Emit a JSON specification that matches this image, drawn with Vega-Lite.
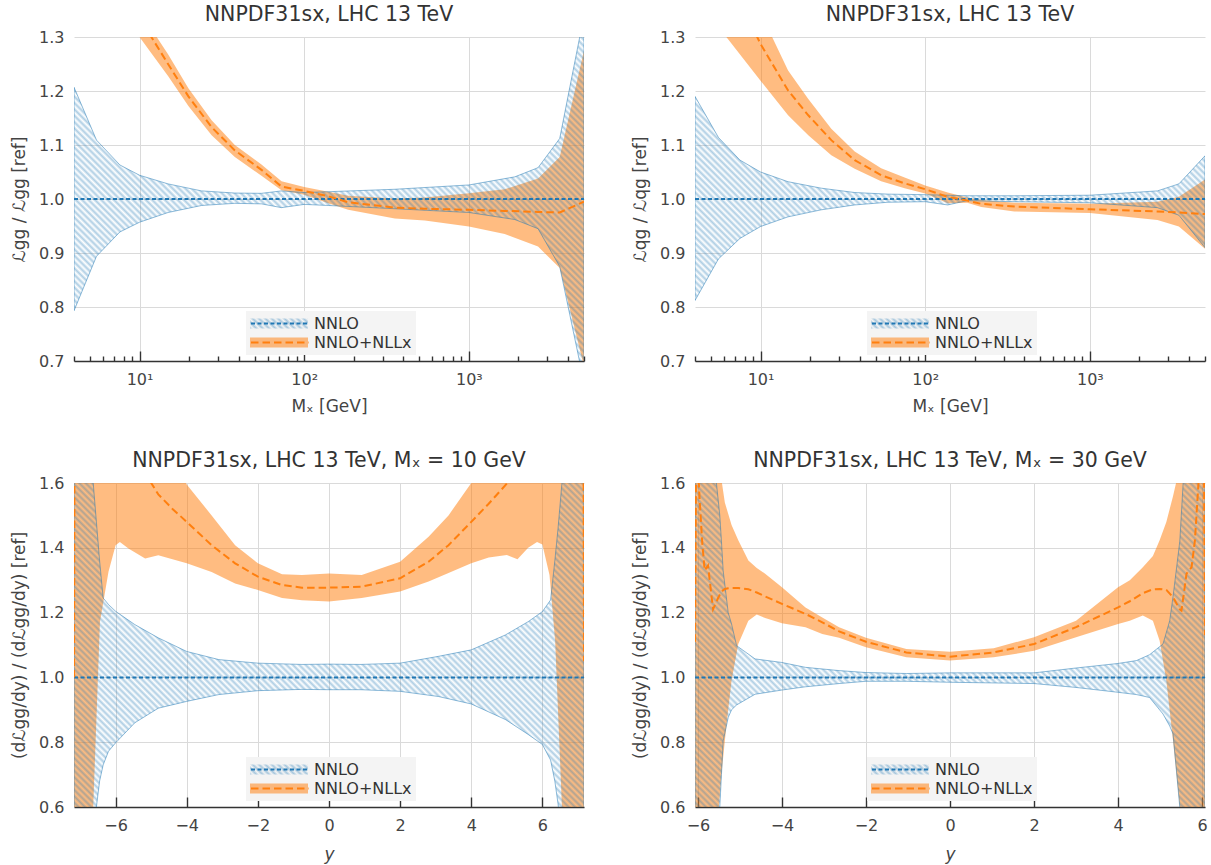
{
"$schema": "https://vega.github.io/schema/vega-lite/v6.json",
"padding": {"left": 10, "top": 4, "right": 4, "bottom": 2},
"background": "white",
"columns": 2,
"spacing": {"row": 36, "column": 46},
"params": [{"name": "hs", "value": [
{"offset":0,"color":"#1f77b45c"},{"offset":0.0025,"color":"#1f77b400"},{"offset":0.005,"color":"#1f77b45c"},{"offset":0.0075,"color":"#1f77b400"},
{"offset":0.01,"color":"#1f77b45c"},{"offset":0.0125,"color":"#1f77b400"},{"offset":0.015,"color":"#1f77b45c"},{"offset":0.0175,"color":"#1f77b400"},
{"offset":0.02,"color":"#1f77b45c"},{"offset":0.0225,"color":"#1f77b400"},{"offset":0.025,"color":"#1f77b45c"},{"offset":0.0275,"color":"#1f77b400"},
{"offset":0.03,"color":"#1f77b45c"},{"offset":0.0325,"color":"#1f77b400"},{"offset":0.035,"color":"#1f77b45c"},{"offset":0.0375,"color":"#1f77b400"},
{"offset":0.04,"color":"#1f77b45c"},{"offset":0.0425,"color":"#1f77b400"},{"offset":0.045,"color":"#1f77b45c"},{"offset":0.0475,"color":"#1f77b400"},
{"offset":0.05,"color":"#1f77b45c"},{"offset":0.0525,"color":"#1f77b400"},{"offset":0.055,"color":"#1f77b45c"},{"offset":0.0575,"color":"#1f77b400"},
{"offset":0.06,"color":"#1f77b45c"},{"offset":0.0625,"color":"#1f77b400"},{"offset":0.065,"color":"#1f77b45c"},{"offset":0.0675,"color":"#1f77b400"},
{"offset":0.07,"color":"#1f77b45c"},{"offset":0.0725,"color":"#1f77b400"},{"offset":0.075,"color":"#1f77b45c"},{"offset":0.0775,"color":"#1f77b400"},
{"offset":0.08,"color":"#1f77b45c"},{"offset":0.0825,"color":"#1f77b400"},{"offset":0.085,"color":"#1f77b45c"},{"offset":0.0875,"color":"#1f77b400"},
{"offset":0.09,"color":"#1f77b45c"},{"offset":0.0925,"color":"#1f77b400"},{"offset":0.095,"color":"#1f77b45c"},{"offset":0.0975,"color":"#1f77b400"},
{"offset":0.1,"color":"#1f77b45c"},{"offset":0.1025,"color":"#1f77b400"},{"offset":0.105,"color":"#1f77b45c"},{"offset":0.1075,"color":"#1f77b400"},
{"offset":0.11,"color":"#1f77b45c"},{"offset":0.1125,"color":"#1f77b400"},{"offset":0.115,"color":"#1f77b45c"},{"offset":0.1175,"color":"#1f77b400"},
{"offset":0.12,"color":"#1f77b45c"},{"offset":0.1225,"color":"#1f77b400"},{"offset":0.125,"color":"#1f77b45c"},{"offset":0.1275,"color":"#1f77b400"},
{"offset":0.13,"color":"#1f77b45c"},{"offset":0.1325,"color":"#1f77b400"},{"offset":0.135,"color":"#1f77b45c"},{"offset":0.1375,"color":"#1f77b400"},
{"offset":0.14,"color":"#1f77b45c"},{"offset":0.1425,"color":"#1f77b400"},{"offset":0.145,"color":"#1f77b45c"},{"offset":0.1475,"color":"#1f77b400"},
{"offset":0.15,"color":"#1f77b45c"},{"offset":0.1525,"color":"#1f77b400"},{"offset":0.155,"color":"#1f77b45c"},{"offset":0.1575,"color":"#1f77b400"},
{"offset":0.16,"color":"#1f77b45c"},{"offset":0.1625,"color":"#1f77b400"},{"offset":0.165,"color":"#1f77b45c"},{"offset":0.1675,"color":"#1f77b400"},
{"offset":0.17,"color":"#1f77b45c"},{"offset":0.1725,"color":"#1f77b400"},{"offset":0.175,"color":"#1f77b45c"},{"offset":0.1775,"color":"#1f77b400"},
{"offset":0.18,"color":"#1f77b45c"},{"offset":0.1825,"color":"#1f77b400"},{"offset":0.185,"color":"#1f77b45c"},{"offset":0.1875,"color":"#1f77b400"},
{"offset":0.19,"color":"#1f77b45c"},{"offset":0.1925,"color":"#1f77b400"},{"offset":0.195,"color":"#1f77b45c"},{"offset":0.1975,"color":"#1f77b400"},
{"offset":0.2,"color":"#1f77b45c"},{"offset":0.2025,"color":"#1f77b400"},{"offset":0.205,"color":"#1f77b45c"},{"offset":0.2075,"color":"#1f77b400"},
{"offset":0.21,"color":"#1f77b45c"},{"offset":0.2125,"color":"#1f77b400"},{"offset":0.215,"color":"#1f77b45c"},{"offset":0.2175,"color":"#1f77b400"},
{"offset":0.22,"color":"#1f77b45c"},{"offset":0.2225,"color":"#1f77b400"},{"offset":0.225,"color":"#1f77b45c"},{"offset":0.2275,"color":"#1f77b400"},
{"offset":0.23,"color":"#1f77b45c"},{"offset":0.2325,"color":"#1f77b400"},{"offset":0.235,"color":"#1f77b45c"},{"offset":0.2375,"color":"#1f77b400"},
{"offset":0.24,"color":"#1f77b45c"},{"offset":0.2425,"color":"#1f77b400"},{"offset":0.245,"color":"#1f77b45c"},{"offset":0.2475,"color":"#1f77b400"},
{"offset":0.25,"color":"#1f77b45c"},{"offset":0.2525,"color":"#1f77b400"},{"offset":0.255,"color":"#1f77b45c"},{"offset":0.2575,"color":"#1f77b400"},
{"offset":0.26,"color":"#1f77b45c"},{"offset":0.2625,"color":"#1f77b400"},{"offset":0.265,"color":"#1f77b45c"},{"offset":0.2675,"color":"#1f77b400"},
{"offset":0.27,"color":"#1f77b45c"},{"offset":0.2725,"color":"#1f77b400"},{"offset":0.275,"color":"#1f77b45c"},{"offset":0.2775,"color":"#1f77b400"},
{"offset":0.28,"color":"#1f77b45c"},{"offset":0.2825,"color":"#1f77b400"},{"offset":0.285,"color":"#1f77b45c"},{"offset":0.2875,"color":"#1f77b400"},
{"offset":0.29,"color":"#1f77b45c"},{"offset":0.2925,"color":"#1f77b400"},{"offset":0.295,"color":"#1f77b45c"},{"offset":0.2975,"color":"#1f77b400"},
{"offset":0.3,"color":"#1f77b45c"},{"offset":0.3025,"color":"#1f77b400"},{"offset":0.305,"color":"#1f77b45c"},{"offset":0.3075,"color":"#1f77b400"},
{"offset":0.31,"color":"#1f77b45c"},{"offset":0.3125,"color":"#1f77b400"},{"offset":0.315,"color":"#1f77b45c"},{"offset":0.3175,"color":"#1f77b400"},
{"offset":0.32,"color":"#1f77b45c"},{"offset":0.3225,"color":"#1f77b400"},{"offset":0.325,"color":"#1f77b45c"},{"offset":0.3275,"color":"#1f77b400"},
{"offset":0.33,"color":"#1f77b45c"},{"offset":0.3325,"color":"#1f77b400"},{"offset":0.335,"color":"#1f77b45c"},{"offset":0.3375,"color":"#1f77b400"},
{"offset":0.34,"color":"#1f77b45c"},{"offset":0.3425,"color":"#1f77b400"},{"offset":0.345,"color":"#1f77b45c"},{"offset":0.3475,"color":"#1f77b400"},
{"offset":0.35,"color":"#1f77b45c"},{"offset":0.3525,"color":"#1f77b400"},{"offset":0.355,"color":"#1f77b45c"},{"offset":0.3575,"color":"#1f77b400"},
{"offset":0.36,"color":"#1f77b45c"},{"offset":0.3625,"color":"#1f77b400"},{"offset":0.365,"color":"#1f77b45c"},{"offset":0.3675,"color":"#1f77b400"},
{"offset":0.37,"color":"#1f77b45c"},{"offset":0.3725,"color":"#1f77b400"},{"offset":0.375,"color":"#1f77b45c"},{"offset":0.3775,"color":"#1f77b400"},
{"offset":0.38,"color":"#1f77b45c"},{"offset":0.3825,"color":"#1f77b400"},{"offset":0.385,"color":"#1f77b45c"},{"offset":0.3875,"color":"#1f77b400"},
{"offset":0.39,"color":"#1f77b45c"},{"offset":0.3925,"color":"#1f77b400"},{"offset":0.395,"color":"#1f77b45c"},{"offset":0.3975,"color":"#1f77b400"},
{"offset":0.4,"color":"#1f77b45c"},{"offset":0.4025,"color":"#1f77b400"},{"offset":0.405,"color":"#1f77b45c"},{"offset":0.4075,"color":"#1f77b400"},
{"offset":0.41,"color":"#1f77b45c"},{"offset":0.4125,"color":"#1f77b400"},{"offset":0.415,"color":"#1f77b45c"},{"offset":0.4175,"color":"#1f77b400"},
{"offset":0.42,"color":"#1f77b45c"},{"offset":0.4225,"color":"#1f77b400"},{"offset":0.425,"color":"#1f77b45c"},{"offset":0.4275,"color":"#1f77b400"},
{"offset":0.43,"color":"#1f77b45c"},{"offset":0.4325,"color":"#1f77b400"},{"offset":0.435,"color":"#1f77b45c"},{"offset":0.4375,"color":"#1f77b400"},
{"offset":0.44,"color":"#1f77b45c"},{"offset":0.4425,"color":"#1f77b400"},{"offset":0.445,"color":"#1f77b45c"},{"offset":0.4475,"color":"#1f77b400"},
{"offset":0.45,"color":"#1f77b45c"},{"offset":0.4525,"color":"#1f77b400"},{"offset":0.455,"color":"#1f77b45c"},{"offset":0.4575,"color":"#1f77b400"},
{"offset":0.46,"color":"#1f77b45c"},{"offset":0.4625,"color":"#1f77b400"},{"offset":0.465,"color":"#1f77b45c"},{"offset":0.4675,"color":"#1f77b400"},
{"offset":0.47,"color":"#1f77b45c"},{"offset":0.4725,"color":"#1f77b400"},{"offset":0.475,"color":"#1f77b45c"},{"offset":0.4775,"color":"#1f77b400"},
{"offset":0.48,"color":"#1f77b45c"},{"offset":0.4825,"color":"#1f77b400"},{"offset":0.485,"color":"#1f77b45c"},{"offset":0.4875,"color":"#1f77b400"},
{"offset":0.49,"color":"#1f77b45c"},{"offset":0.4925,"color":"#1f77b400"},{"offset":0.495,"color":"#1f77b45c"},{"offset":0.4975,"color":"#1f77b400"},
{"offset":0.5,"color":"#1f77b45c"},{"offset":0.5025,"color":"#1f77b400"},{"offset":0.505,"color":"#1f77b45c"},{"offset":0.5075,"color":"#1f77b400"},
{"offset":0.51,"color":"#1f77b45c"},{"offset":0.5125,"color":"#1f77b400"},{"offset":0.515,"color":"#1f77b45c"},{"offset":0.5175,"color":"#1f77b400"},
{"offset":0.52,"color":"#1f77b45c"},{"offset":0.5225,"color":"#1f77b400"},{"offset":0.525,"color":"#1f77b45c"},{"offset":0.5275,"color":"#1f77b400"},
{"offset":0.53,"color":"#1f77b45c"},{"offset":0.5325,"color":"#1f77b400"},{"offset":0.535,"color":"#1f77b45c"},{"offset":0.5375,"color":"#1f77b400"},
{"offset":0.54,"color":"#1f77b45c"},{"offset":0.5425,"color":"#1f77b400"},{"offset":0.545,"color":"#1f77b45c"},{"offset":0.5475,"color":"#1f77b400"},
{"offset":0.55,"color":"#1f77b45c"},{"offset":0.5525,"color":"#1f77b400"},{"offset":0.555,"color":"#1f77b45c"},{"offset":0.5575,"color":"#1f77b400"},
{"offset":0.56,"color":"#1f77b45c"},{"offset":0.5625,"color":"#1f77b400"},{"offset":0.565,"color":"#1f77b45c"},{"offset":0.5675,"color":"#1f77b400"},
{"offset":0.57,"color":"#1f77b45c"},{"offset":0.5725,"color":"#1f77b400"},{"offset":0.575,"color":"#1f77b45c"},{"offset":0.5775,"color":"#1f77b400"},
{"offset":0.58,"color":"#1f77b45c"},{"offset":0.5825,"color":"#1f77b400"},{"offset":0.585,"color":"#1f77b45c"},{"offset":0.5875,"color":"#1f77b400"},
{"offset":0.59,"color":"#1f77b45c"},{"offset":0.5925,"color":"#1f77b400"},{"offset":0.595,"color":"#1f77b45c"},{"offset":0.5975,"color":"#1f77b400"},
{"offset":0.6,"color":"#1f77b45c"},{"offset":0.6025,"color":"#1f77b400"},{"offset":0.605,"color":"#1f77b45c"},{"offset":0.6075,"color":"#1f77b400"},
{"offset":0.61,"color":"#1f77b45c"},{"offset":0.6125,"color":"#1f77b400"},{"offset":0.615,"color":"#1f77b45c"},{"offset":0.6175,"color":"#1f77b400"},
{"offset":0.62,"color":"#1f77b45c"},{"offset":0.6225,"color":"#1f77b400"},{"offset":0.625,"color":"#1f77b45c"},{"offset":0.6275,"color":"#1f77b400"},
{"offset":0.63,"color":"#1f77b45c"},{"offset":0.6325,"color":"#1f77b400"},{"offset":0.635,"color":"#1f77b45c"},{"offset":0.6375,"color":"#1f77b400"},
{"offset":0.64,"color":"#1f77b45c"},{"offset":0.6425,"color":"#1f77b400"},{"offset":0.645,"color":"#1f77b45c"},{"offset":0.6475,"color":"#1f77b400"},
{"offset":0.65,"color":"#1f77b45c"},{"offset":0.6525,"color":"#1f77b400"},{"offset":0.655,"color":"#1f77b45c"},{"offset":0.6575,"color":"#1f77b400"},
{"offset":0.66,"color":"#1f77b45c"},{"offset":0.6625,"color":"#1f77b400"},{"offset":0.665,"color":"#1f77b45c"},{"offset":0.6675,"color":"#1f77b400"},
{"offset":0.67,"color":"#1f77b45c"},{"offset":0.6725,"color":"#1f77b400"},{"offset":0.675,"color":"#1f77b45c"},{"offset":0.6775,"color":"#1f77b400"},
{"offset":0.68,"color":"#1f77b45c"},{"offset":0.6825,"color":"#1f77b400"},{"offset":0.685,"color":"#1f77b45c"},{"offset":0.6875,"color":"#1f77b400"},
{"offset":0.69,"color":"#1f77b45c"},{"offset":0.6925,"color":"#1f77b400"},{"offset":0.695,"color":"#1f77b45c"},{"offset":0.6975,"color":"#1f77b400"},
{"offset":0.7,"color":"#1f77b45c"},{"offset":0.7025,"color":"#1f77b400"},{"offset":0.705,"color":"#1f77b45c"},{"offset":0.7075,"color":"#1f77b400"},
{"offset":0.71,"color":"#1f77b45c"},{"offset":0.7125,"color":"#1f77b400"},{"offset":0.715,"color":"#1f77b45c"},{"offset":0.7175,"color":"#1f77b400"},
{"offset":0.72,"color":"#1f77b45c"},{"offset":0.7225,"color":"#1f77b400"},{"offset":0.725,"color":"#1f77b45c"},{"offset":0.7275,"color":"#1f77b400"},
{"offset":0.73,"color":"#1f77b45c"},{"offset":0.7325,"color":"#1f77b400"},{"offset":0.735,"color":"#1f77b45c"},{"offset":0.7375,"color":"#1f77b400"},
{"offset":0.74,"color":"#1f77b45c"},{"offset":0.7425,"color":"#1f77b400"},{"offset":0.745,"color":"#1f77b45c"},{"offset":0.7475,"color":"#1f77b400"},
{"offset":0.75,"color":"#1f77b45c"},{"offset":0.7525,"color":"#1f77b400"}
]}],
"resolve": {"scale": {"fill": "independent", "stroke": "independent", "strokeDash": "independent", "x": "independent", "y": "independent"}, "legend": {"fill": "independent", "stroke": "independent", "strokeDash": "independent"}},
"datasets": {
"tl_a": [{"x":4,"lo":0.793,"hi":1.207},{"x":5.48,"lo":0.894,"hi":1.109},{"x":7.6,"lo":0.939,"hi":1.063},{"x":10,"lo":0.957,"hi":1.044},{"x":14.9,"lo":0.975,"hi":1.028},{"x":23.8,"lo":0.988,"hi":1.015},{"x":37.9,"lo":0.992,"hi":1.011},{"x":55,"lo":0.991,"hi":1.0105},{"x":72.8,"lo":0.984,"hi":1.015},{"x":100,"lo":0.99,"hi":1.012},{"x":140,"lo":0.988,"hi":1.0135},{"x":355,"lo":0.982,"hi":1.018},{"x":1000,"lo":0.975,"hi":1.026},{"x":1900,"lo":0.962,"hi":1.041},{"x":2630,"lo":0.945,"hi":1.058},{"x":3560,"lo":0.875,"hi":1.112},{"x":5000,"lo":0.66,"hi":1.34}],
"tl_b": [{"x":10,"lo":1.3,"c":1.345,"hi":1.37},{"x":11.8,"lo":1.27,"c":1.3,"hi":1.315},{"x":14.9,"lo":1.228,"c":1.25,"hi":1.268},{"x":19.8,"lo":1.172,"c":1.19,"hi":1.205},{"x":27.4,"lo":1.118,"c":1.133,"hi":1.146},{"x":37.9,"lo":1.078,"c":1.09,"hi":1.1},{"x":55,"lo":1.043,"c":1.054,"hi":1.064},{"x":72.8,"lo":1.016,"c":1.023,"hi":1.033},{"x":100,"lo":1.008,"c":1.015,"hi":1.022},{"x":140,"lo":0.992,"c":1.005,"hi":1.0135},{"x":185,"lo":0.98,"c":0.994,"hi":1.006},{"x":355,"lo":0.964,"c":0.984,"hi":1.001},{"x":540,"lo":0.96,"c":0.982,"hi":1.003},{"x":1000,"lo":0.949,"c":0.98,"hi":1.0105},{"x":1650,"lo":0.935,"c":0.978,"hi":1.018},{"x":2630,"lo":0.912,"c":0.976,"hi":1.038},{"x":3560,"lo":0.872,"c":0.975,"hi":1.078},{"x":5000,"lo":0.69,"c":0.995,"hi":1.275}],
"tr_a": [{"x":4,"lo":0.812,"hi":1.19},{"x":5.55,"lo":0.889,"hi":1.114},{"x":7.5,"lo":0.927,"hi":1.072},{"x":10,"lo":0.949,"hi":1.05},{"x":14.7,"lo":0.967,"hi":1.032},{"x":23.4,"lo":0.98,"hi":1.02},{"x":37.3,"lo":0.989,"hi":1.012},{"x":59.4,"lo":0.994,"hi":1.009},{"x":100,"lo":0.995,"hi":1.008},{"x":137,"lo":0.989,"hi":1.007},{"x":180,"lo":0.997,"hi":1.006},{"x":348,"lo":0.995,"hi":1.006},{"x":1000,"lo":0.993,"hi":1.007},{"x":2570,"lo":0.984,"hi":1.015},{"x":3470,"lo":0.97,"hi":1.028},{"x":5000,"lo":0.91,"hi":1.08}],
"tr_b": [{"x":6.2,"lo":1.3,"c":1.42,"hi":1.52},{"x":10,"lo":1.219,"c":1.287,"hi":1.345},{"x":14.7,"lo":1.155,"c":1.201,"hi":1.238},{"x":19.5,"lo":1.118,"c":1.155,"hi":1.185},{"x":26.9,"lo":1.081,"c":1.109,"hi":1.13},{"x":37.3,"lo":1.056,"c":1.072,"hi":1.088},{"x":54,"lo":1.033,"c":1.044,"hi":1.057},{"x":75,"lo":1.02,"c":1.029,"hi":1.04},{"x":100,"lo":1.01,"c":1.018,"hi":1.025},{"x":137,"lo":0.992,"c":1.004,"hi":1.012},{"x":180,"lo":0.993,"c":0.997,"hi":1.003},{"x":219,"lo":0.985,"c":0.991,"hi":0.998},{"x":348,"lo":0.977,"c":0.986,"hi":0.993},{"x":1000,"lo":0.974,"c":0.981,"hi":0.991},{"x":2570,"lo":0.961,"c":0.977,"hi":0.995},{"x":3470,"lo":0.949,"c":0.975,"hi":1.004},{"x":5000,"lo":0.908,"c":0.972,"hi":1.036}],
"bl_a": [{"x":-7.17,"lo":0.3,"hi":1.9},{"x":-6.63,"lo":0.5,"hi":1.6},{"x":-6.54,"lo":0.6,"hi":1.48},{"x":-6.45,"lo":0.68,"hi":1.36},{"x":-6.35,"lo":0.73,"hi":1.245},{"x":-6.2,"lo":0.772,"hi":1.225},{"x":-6,"lo":0.798,"hi":1.204},{"x":-5.46,"lo":0.86,"hi":1.163},{"x":-4.8,"lo":0.905,"hi":1.122},{"x":-4,"lo":0.926,"hi":1.08},{"x":-3.1,"lo":0.947,"hi":1.055},{"x":-2,"lo":0.959,"hi":1.044},{"x":-0.76,"lo":0.963,"hi":1.04},{"x":0,"lo":0.962,"hi":1.041},{"x":0.9,"lo":0.962,"hi":1.04},{"x":2,"lo":0.957,"hi":1.044},{"x":3.08,"lo":0.941,"hi":1.065},{"x":4,"lo":0.918,"hi":1.085},{"x":4.96,"lo":0.87,"hi":1.131},{"x":5.6,"lo":0.824,"hi":1.172},{"x":6,"lo":0.793,"hi":1.203},{"x":6.23,"lo":0.745,"hi":1.239},{"x":6.35,"lo":0.68,"hi":1.36},{"x":6.44,"lo":0.61,"hi":1.46},{"x":6.55,"lo":0.5,"hi":1.6},{"x":7.17,"lo":0.3,"hi":1.9}],
"bl_b": [{"x":-7.17,"lo":0,"c":1,"hi":2.6},{"x":-7.14,"lo":0,"c":2.6,"hi":3},{"x":-6.63,"lo":0.598,"c":2.45,"hi":2.9},{"x":-6.44,"lo":1.172,"c":2.35,"hi":2.8},{"x":-6.2,"lo":1.326,"c":2.2,"hi":2.7},{"x":-6,"lo":1.408,"c":2.1,"hi":2.6},{"x":-5.88,"lo":1.418,"c":2,"hi":2.5},{"x":-5.64,"lo":1.398,"c":1.86,"hi":2.35},{"x":-5.17,"lo":1.367,"c":1.63,"hi":2},{"x":-4.8,"lo":1.377,"c":1.565,"hi":1.8},{"x":-4.4,"lo":1.365,"c":1.52,"hi":1.68},{"x":-4,"lo":1.352,"c":1.48,"hi":1.595},{"x":-3.3,"lo":1.325,"c":1.408,"hi":1.5},{"x":-2.64,"lo":1.29,"c":1.352,"hi":1.408},{"x":-2,"lo":1.27,"c":1.311,"hi":1.352},{"x":-1.32,"lo":1.245,"c":1.285,"hi":1.318},{"x":-0.76,"lo":1.238,"c":1.277,"hi":1.316},{"x":0,"lo":1.234,"c":1.277,"hi":1.321},{"x":0.92,"lo":1.245,"c":1.28,"hi":1.316},{"x":2,"lo":1.265,"c":1.306,"hi":1.357},{"x":2.8,"lo":1.296,"c":1.357,"hi":1.434},{"x":3.36,"lo":1.322,"c":1.408,"hi":1.5},{"x":4,"lo":1.352,"c":1.48,"hi":1.6},{"x":4.49,"lo":1.37,"c":1.536,"hi":1.7},{"x":5,"lo":1.378,"c":1.598,"hi":1.85},{"x":5.3,"lo":1.365,"c":1.65,"hi":1.95},{"x":5.6,"lo":1.4,"c":1.75,"hi":2.1},{"x":5.85,"lo":1.418,"c":1.85,"hi":2.2},{"x":6,"lo":1.41,"c":1.95,"hi":2.3},{"x":6.2,"lo":1.316,"c":2.1,"hi":2.45},{"x":6.36,"lo":1.11,"c":2.2,"hi":2.55},{"x":6.55,"lo":0.598,"c":2.35,"hi":2.7},{"x":7.14,"lo":0,"c":2.6,"hi":3},{"x":7.17,"lo":0,"c":1.05,"hi":2.6}],
"br_a": [{"x":-6.07,"lo":0.3,"hi":1.9},{"x":-5.56,"lo":0.5,"hi":1.6},{"x":-5.48,"lo":0.6,"hi":1.5},{"x":-5.44,"lo":0.7,"hi":1.42},{"x":-5.4,"lo":0.804,"hi":1.33},{"x":-5.28,"lo":0.876,"hi":1.2},{"x":-5.2,"lo":0.9,"hi":1.165},{"x":-5.08,"lo":0.915,"hi":1.098},{"x":-4.64,"lo":0.948,"hi":1.057},{"x":-4,"lo":0.961,"hi":1.046},{"x":-3.44,"lo":0.971,"hi":1.031},{"x":-2.64,"lo":0.981,"hi":1.021},{"x":-2,"lo":0.988,"hi":1.015},{"x":-1.04,"lo":0.988,"hi":1.012},{"x":0,"lo":0.985,"hi":1.014},{"x":2,"lo":0.981,"hi":1.014},{"x":3,"lo":0.969,"hi":1.029},{"x":4,"lo":0.954,"hi":1.043},{"x":4.44,"lo":0.947,"hi":1.052},{"x":4.75,"lo":0.938,"hi":1.07},{"x":5.07,"lo":0.887,"hi":1.103},{"x":5.23,"lo":0.85,"hi":1.175},{"x":5.31,"lo":0.825,"hi":1.25},{"x":5.47,"lo":0.6,"hi":1.42},{"x":5.55,"lo":0.5,"hi":1.6},{"x":6.07,"lo":0.3,"hi":1.9}],
"br_b": [{"x":-6.07,"lo":0,"c":1.11,"hi":2.6},{"x":-6.04,"lo":0,"c":1.75,"hi":2.6},{"x":-5.96,"lo":0,"c":1.55,"hi":2.5},{"x":-5.9,"lo":0.1,"c":1.42,"hi":2.4},{"x":-5.84,"lo":0.2,"c":1.33,"hi":2.3},{"x":-5.76,"lo":0.3,"c":1.345,"hi":2.1},{"x":-5.64,"lo":0.45,"c":1.21,"hi":1.9},{"x":-5.52,"lo":0.57,"c":1.245,"hi":1.7},{"x":-5.44,"lo":0.7,"c":1.265,"hi":1.61},{"x":-5.36,"lo":0.804,"c":1.273,"hi":1.54},{"x":-5.28,"lo":0.9,"c":1.275,"hi":1.505},{"x":-5.2,"lo":0.99,"c":1.276,"hi":1.47},{"x":-5.04,"lo":1.103,"c":1.276,"hi":1.423},{"x":-4.8,"lo":1.175,"c":1.272,"hi":1.361},{"x":-4.6,"lo":1.194,"c":1.262,"hi":1.338},{"x":-4.4,"lo":1.183,"c":1.25,"hi":1.32},{"x":-4,"lo":1.167,"c":1.227,"hi":1.278},{"x":-3.44,"lo":1.155,"c":1.196,"hi":1.216},{"x":-3.04,"lo":1.134,"c":1.17,"hi":1.185},{"x":-2.64,"lo":1.122,"c":1.142,"hi":1.155},{"x":-2,"lo":1.093,"c":1.11,"hi":1.122},{"x":-1.04,"lo":1.062,"c":1.077,"hi":1.088},{"x":0,"lo":1.052,"c":1.064,"hi":1.079},{"x":1.04,"lo":1.062,"c":1.077,"hi":1.09},{"x":2,"lo":1.082,"c":1.103,"hi":1.124},{"x":3,"lo":1.124,"c":1.155,"hi":1.175},{"x":4,"lo":1.165,"c":1.216,"hi":1.278},{"x":4.28,"lo":1.175,"c":1.235,"hi":1.3},{"x":4.59,"lo":1.191,"c":1.26,"hi":1.34},{"x":4.83,"lo":1.175,"c":1.272,"hi":1.375},{"x":4.99,"lo":1.113,"c":1.273,"hi":1.423},{"x":5.15,"lo":0.99,"c":1.27,"hi":1.48},{"x":5.31,"lo":0.804,"c":1.247,"hi":1.56},{"x":5.47,"lo":0.6,"c":1.21,"hi":1.65},{"x":5.51,"lo":0.55,"c":1.206,"hi":1.7},{"x":5.63,"lo":0.4,"c":1.32,"hi":1.9},{"x":5.75,"lo":0.3,"c":1.34,"hi":2.1},{"x":5.83,"lo":0.2,"c":1.423,"hi":2.2},{"x":5.91,"lo":0,"c":1.59,"hi":2.4},{"x":5.98,"lo":0,"c":1.75,"hi":2.5},{"x":6.04,"lo":0,"c":1.75,"hi":2.6},{"x":6.07,"lo":0,"c":1.13,"hi":2.6}]
},
"concat": [
{
"width": 510, "height": 324,
"title": "NNPDF31sx, LHC 13 TeV",
"encoding": {"x": {"field": "x", "type": "quantitative", "scale": {"type": "log", "domain": [4, 5000], "nice": false}, "axis": {"title": "Mₓ [GeV]", "titlePadding": 6, "values": [4,5,6,7,8,9,10,20,30,40,50,60,70,80,90,100,200,300,400,500,600,700,800,900,1000,2000,3000,4000,5000], "labelExpr": "datum.value == 10 ? '10¹' : datum.value == 100 ? '10²' : datum.value == 1000 ? '10³' : ''", "tickSize": {"condition": {"test": "datum.value == 10 || datum.value == 100 || datum.value == 1000", "value": -10}, "value": -5}, "gridOpacity": {"condition": {"test": "datum.value == 10 || datum.value == 100 || datum.value == 1000", "value": 1}, "value": 0}, "labelPadding": 20}}},
"layer": [
{"data": {"name": "tl_b"}, "mark": {"type": "area", "clip": true}, "encoding": {"y": {"field": "lo", "type": "quantitative", "title": "ℒgg / ℒgg [ref]", "scale": {"domain": [0.7, 1.3], "nice": false, "zero": false}, "axis": {"values": [0.7,0.8,0.9,1.0,1.1,1.2,1.3], "format": ".1f"}}, "y2": {"field": "hi"}, "fill": {"datum": "NNLO+NLLx", "scale": {"domain": ["NNLO", "NNLO+NLLx"], "range": [{"expr": "{gradient: 'linear', x1: 0, y1: 1, x2: 21.31, y2: -2.674, stops: hs}"}, "rgba(255,127,14,0.52)"]}, "legend": {"title": null, "symbolType": "M-1,-0.17H1V0.17H-1Z", "symbolStrokeWidth": 0, "fillColor": "#f4f4f4"}}}},
{"data": {"name": "tl_a"}, "mark": {"type": "area", "clip": true, "stroke": "#1f77b4", "strokeOpacity": 0.5, "strokeWidth": 1, "fill": {"expr": "{gradient: 'linear', x1: 0, y1: 1, x2: 1.6436, y2: -0.1834, stops: hs}"}}, "encoding": {"y": {"field": "lo", "type": "quantitative", "title": "ℒgg / ℒgg [ref]", "scale": {"domain": [0.7, 1.3], "nice": false, "zero": false}}, "y2": {"field": "hi"}}},
{"data": {"name": "tl_a"}, "mark": {"type": "line", "clip": true, "strokeWidth": 2}, "encoding": {"y": {"datum": 1, "type": "quantitative", "scale": {"domain": [0.7, 1.3], "nice": false, "zero": false}}, "stroke": {"datum": "NNLO", "scale": {"domain": ["NNLO", "NNLO+NLLx", "NNLO+NLLx"], "range": ["#1f77b4", "#ff7f0e", "#ff7f0e"]}, "legend": {"title": null, "symbolType": "M-1,0H1", "symbolStrokeWidth": 2, "labelOpacity": 0}}, "strokeDash": {"datum": "NNLO", "scale": {"domain": ["NNLO", "NNLO+NLLx", "NNLO+NLLx"], "range": [[4,2.5],[7.5,4],[7.5,4]]}, "legend": {"title": null, "symbolType": "M-1,0H1", "symbolStrokeWidth": 2, "labelOpacity": 0}}}},
{"data": {"name": "tl_b"}, "mark": {"type": "line", "clip": true, "strokeWidth": 2}, "encoding": {"y": {"field": "c", "type": "quantitative", "title": "ℒgg / ℒgg [ref]", "scale": {"domain": [0.7, 1.3], "nice": false, "zero": false}}, "stroke": {"datum": "NNLO+NLLx", "scale": {"domain": ["NNLO", "NNLO+NLLx", "NNLO+NLLx"], "range": ["#1f77b4", "#ff7f0e", "#ff7f0e"]}, "legend": {"title": null, "symbolType": "M-1,0H1", "symbolStrokeWidth": 2, "labelOpacity": 0}}, "strokeDash": {"datum": "NNLO+NLLx", "scale": {"domain": ["NNLO", "NNLO+NLLx", "NNLO+NLLx"], "range": [[4,2.5],[7.5,4],[7.5,4]]}, "legend": {"title": null, "symbolType": "M-1,0H1", "symbolStrokeWidth": 2, "labelOpacity": 0}}}}
]
},
{
"width": 510, "height": 324,
"title": "NNPDF31sx, LHC 13 TeV",
"encoding": {"x": {"field": "x", "type": "quantitative", "scale": {"type": "log", "domain": [4, 5000], "nice": false}, "axis": {"title": "Mₓ [GeV]", "titlePadding": 6, "values": [4,5,6,7,8,9,10,20,30,40,50,60,70,80,90,100,200,300,400,500,600,700,800,900,1000,2000,3000,4000,5000], "labelExpr": "datum.value == 10 ? '10¹' : datum.value == 100 ? '10²' : datum.value == 1000 ? '10³' : ''", "tickSize": {"condition": {"test": "datum.value == 10 || datum.value == 100 || datum.value == 1000", "value": -10}, "value": -5}, "gridOpacity": {"condition": {"test": "datum.value == 10 || datum.value == 100 || datum.value == 1000", "value": 1}, "value": 0}, "labelPadding": 20}}},
"layer": [
{"data": {"name": "tr_b"}, "mark": {"type": "area", "clip": true}, "encoding": {"y": {"field": "lo", "type": "quantitative", "title": "ℒqg / ℒqg [ref]", "scale": {"domain": [0.7, 1.3], "nice": false, "zero": false}, "axis": {"values": [0.7,0.8,0.9,1.0,1.1,1.2,1.3], "format": ".1f"}}, "y2": {"field": "hi"}, "fill": {"datum": "NNLO+NLLx", "scale": {"domain": ["NNLO", "NNLO+NLLx"], "range": [{"expr": "{gradient: 'linear', x1: 0, y1: 1, x2: 21.31, y2: -2.674, stops: hs}"}, "rgba(255,127,14,0.52)"]}, "legend": {"title": null, "symbolType": "M-1,-0.17H1V0.17H-1Z", "symbolStrokeWidth": 0, "fillColor": "#f4f4f4"}}}},
{"data": {"name": "tr_a"}, "mark": {"type": "area", "clip": true, "stroke": "#1f77b4", "strokeOpacity": 0.5, "strokeWidth": 1, "fill": {"expr": "{gradient: 'linear', x1: 0, y1: 1, x2: 2.1511, y2: 0.139, stops: hs}"}}, "encoding": {"y": {"field": "lo", "type": "quantitative", "title": "ℒqg / ℒqg [ref]", "scale": {"domain": [0.7, 1.3], "nice": false, "zero": false}}, "y2": {"field": "hi"}}},
{"data": {"name": "tr_a"}, "mark": {"type": "line", "clip": true, "strokeWidth": 2}, "encoding": {"y": {"datum": 1, "type": "quantitative", "scale": {"domain": [0.7, 1.3], "nice": false, "zero": false}}, "stroke": {"datum": "NNLO", "scale": {"domain": ["NNLO", "NNLO+NLLx", "NNLO+NLLx"], "range": ["#1f77b4", "#ff7f0e", "#ff7f0e"]}, "legend": {"title": null, "symbolType": "M-1,0H1", "symbolStrokeWidth": 2, "labelOpacity": 0}}, "strokeDash": {"datum": "NNLO", "scale": {"domain": ["NNLO", "NNLO+NLLx", "NNLO+NLLx"], "range": [[4,2.5],[7.5,4],[7.5,4]]}, "legend": {"title": null, "symbolType": "M-1,0H1", "symbolStrokeWidth": 2, "labelOpacity": 0}}}},
{"data": {"name": "tr_b"}, "mark": {"type": "line", "clip": true, "strokeWidth": 2}, "encoding": {"y": {"field": "c", "type": "quantitative", "title": "ℒqg / ℒqg [ref]", "scale": {"domain": [0.7, 1.3], "nice": false, "zero": false}}, "stroke": {"datum": "NNLO+NLLx", "scale": {"domain": ["NNLO", "NNLO+NLLx", "NNLO+NLLx"], "range": ["#1f77b4", "#ff7f0e", "#ff7f0e"]}, "legend": {"title": null, "symbolType": "M-1,0H1", "symbolStrokeWidth": 2, "labelOpacity": 0}}, "strokeDash": {"datum": "NNLO+NLLx", "scale": {"domain": ["NNLO", "NNLO+NLLx", "NNLO+NLLx"], "range": [[4,2.5],[7.5,4],[7.5,4]]}, "legend": {"title": null, "symbolType": "M-1,0H1", "symbolStrokeWidth": 2, "labelOpacity": 0}}}}
]
},
{
"width": 510, "height": 324,
"title": "NNPDF31sx, LHC 13 TeV, Mₓ = 10 GeV",
"encoding": {"x": {"field": "x", "type": "quantitative", "scale": {"domain": [-7.17, 7.17], "nice": false, "zero": false}, "axis": {"title": "y", "titleFontStyle": "italic", "titlePadding": 13, "values": [-6,-4,-2,0,2,4,6], "tickSize": -10, "labelPadding": 20}}},
"layer": [
{"data": {"name": "bl_b"}, "mark": {"type": "area", "clip": true}, "encoding": {"y": {"field": "lo", "type": "quantitative", "title": "(dℒgg/dy) / (dℒgg/dy) [ref]", "scale": {"domain": [0.6, 1.6], "nice": false, "zero": false}, "axis": {"values": [0.6,0.8,1.0,1.2,1.4,1.6], "format": ".1f"}}, "y2": {"field": "hi"}, "fill": {"datum": "NNLO+NLLx", "scale": {"domain": ["NNLO", "NNLO+NLLx"], "range": [{"expr": "{gradient: 'linear', x1: 0, y1: 1, x2: 21.31, y2: -2.674, stops: hs}"}, "rgba(255,127,14,0.52)"]}, "legend": {"title": null, "symbolType": "M-1,-0.17H1V0.17H-1Z", "symbolStrokeWidth": 0, "fillColor": "#f4f4f4"}}}},
{"data": {"name": "bl_a"}, "mark": {"type": "area", "clip": true, "stroke": "#1f77b4", "strokeOpacity": 0.5, "strokeWidth": 1, "fill": {"expr": "{gradient: 'linear', x1: 0, y1: 1, x2: 1.2275, y2: -0.2477, stops: hs}"}}, "encoding": {"y": {"field": "lo", "type": "quantitative", "title": "(dℒgg/dy) / (dℒgg/dy) [ref]", "scale": {"domain": [0.6, 1.6], "nice": false, "zero": false}}, "y2": {"field": "hi"}}},
{"data": {"name": "bl_a"}, "mark": {"type": "line", "clip": true, "strokeWidth": 2}, "encoding": {"y": {"datum": 1, "type": "quantitative", "scale": {"domain": [0.6, 1.6], "nice": false, "zero": false}}, "stroke": {"datum": "NNLO", "scale": {"domain": ["NNLO", "NNLO+NLLx", "NNLO+NLLx"], "range": ["#1f77b4", "#ff7f0e", "#ff7f0e"]}, "legend": {"title": null, "symbolType": "M-1,0H1", "symbolStrokeWidth": 2, "labelOpacity": 0}}, "strokeDash": {"datum": "NNLO", "scale": {"domain": ["NNLO", "NNLO+NLLx", "NNLO+NLLx"], "range": [[4,2.5],[7.5,4],[7.5,4]]}, "legend": {"title": null, "symbolType": "M-1,0H1", "symbolStrokeWidth": 2, "labelOpacity": 0}}}},
{"data": {"name": "bl_b"}, "mark": {"type": "line", "clip": true, "strokeWidth": 2}, "encoding": {"y": {"field": "c", "type": "quantitative", "title": "(dℒgg/dy) / (dℒgg/dy) [ref]", "scale": {"domain": [0.6, 1.6], "nice": false, "zero": false}}, "stroke": {"datum": "NNLO+NLLx", "scale": {"domain": ["NNLO", "NNLO+NLLx", "NNLO+NLLx"], "range": ["#1f77b4", "#ff7f0e", "#ff7f0e"]}, "legend": {"title": null, "symbolType": "M-1,0H1", "symbolStrokeWidth": 2, "labelOpacity": 0}}, "strokeDash": {"datum": "NNLO+NLLx", "scale": {"domain": ["NNLO", "NNLO+NLLx", "NNLO+NLLx"], "range": [[4,2.5],[7.5,4],[7.5,4]]}, "legend": {"title": null, "symbolType": "M-1,0H1", "symbolStrokeWidth": 2, "labelOpacity": 0}}}}
]
},
{
"width": 510, "height": 324,
"title": "NNPDF31sx, LHC 13 TeV, Mₓ = 30 GeV",
"encoding": {"x": {"field": "x", "type": "quantitative", "scale": {"domain": [-6.07, 6.07], "nice": false, "zero": false}, "axis": {"title": "y", "titleFontStyle": "italic", "titlePadding": 13, "values": [-6,-4,-2,0,2,4,6], "tickSize": -10, "labelPadding": 20}}},
"layer": [
{"data": {"name": "br_b"}, "mark": {"type": "area", "clip": true}, "encoding": {"y": {"field": "lo", "type": "quantitative", "title": "(dℒgg/dy) / (dℒgg/dy) [ref]", "scale": {"domain": [0.6, 1.6], "nice": false, "zero": false}, "axis": {"values": [0.6,0.8,1.0,1.2,1.4,1.6], "format": ".1f"}}, "y2": {"field": "hi"}, "fill": {"datum": "NNLO+NLLx", "scale": {"domain": ["NNLO", "NNLO+NLLx"], "range": [{"expr": "{gradient: 'linear', x1: 0, y1: 1, x2: 21.31, y2: -2.674, stops: hs}"}, "rgba(255,127,14,0.52)"]}, "legend": {"title": null, "symbolType": "M-1,-0.17H1V0.17H-1Z", "symbolStrokeWidth": 0, "fillColor": "#f4f4f4"}}}},
{"data": {"name": "br_a"}, "mark": {"type": "area", "clip": true, "stroke": "#1f77b4", "strokeOpacity": 0.5, "strokeWidth": 1, "fill": {"expr": "{gradient: 'linear', x1: 0, y1: 1, x2: 1.2275, y2: -0.2477, stops: hs}"}}, "encoding": {"y": {"field": "lo", "type": "quantitative", "title": "(dℒgg/dy) / (dℒgg/dy) [ref]", "scale": {"domain": [0.6, 1.6], "nice": false, "zero": false}}, "y2": {"field": "hi"}}},
{"data": {"name": "br_a"}, "mark": {"type": "line", "clip": true, "strokeWidth": 2}, "encoding": {"y": {"datum": 1, "type": "quantitative", "scale": {"domain": [0.6, 1.6], "nice": false, "zero": false}}, "stroke": {"datum": "NNLO", "scale": {"domain": ["NNLO", "NNLO+NLLx", "NNLO+NLLx"], "range": ["#1f77b4", "#ff7f0e", "#ff7f0e"]}, "legend": {"title": null, "symbolType": "M-1,0H1", "symbolStrokeWidth": 2, "labelOpacity": 0}}, "strokeDash": {"datum": "NNLO", "scale": {"domain": ["NNLO", "NNLO+NLLx", "NNLO+NLLx"], "range": [[4,2.5],[7.5,4],[7.5,4]]}, "legend": {"title": null, "symbolType": "M-1,0H1", "symbolStrokeWidth": 2, "labelOpacity": 0}}}},
{"data": {"name": "br_b"}, "mark": {"type": "line", "clip": true, "strokeWidth": 2}, "encoding": {"y": {"field": "c", "type": "quantitative", "title": "(dℒgg/dy) / (dℒgg/dy) [ref]", "scale": {"domain": [0.6, 1.6], "nice": false, "zero": false}}, "stroke": {"datum": "NNLO+NLLx", "scale": {"domain": ["NNLO", "NNLO+NLLx", "NNLO+NLLx"], "range": ["#1f77b4", "#ff7f0e", "#ff7f0e"]}, "legend": {"title": null, "symbolType": "M-1,0H1", "symbolStrokeWidth": 2, "labelOpacity": 0}}, "strokeDash": {"datum": "NNLO+NLLx", "scale": {"domain": ["NNLO", "NNLO+NLLx", "NNLO+NLLx"], "range": [[4,2.5],[7.5,4],[7.5,4]]}, "legend": {"title": null, "symbolType": "M-1,0H1", "symbolStrokeWidth": 2, "labelOpacity": 0}}}}
]
}
],
"config": {
"font": "DejaVu Sans",
"view": {"stroke": null},
"title": {"fontSize": 20.5, "fontWeight": "normal", "color": "#333333", "offset": 4},
"axis": {"labelFontSize": 16, "titleFontSize": 17, "titleFontWeight": "normal", "labelColor": "#444444", "titleColor": "#444444", "gridColor": "#dadada", "gridWidth": 1, "domainColor": "#333333", "tickColor": "#333333", "labelFlush": false, "labelOverlap": false},
"axisX": {"domainWidth": 1.4, "tickWidth": 1.4},
"axisY": {"ticks": false, "domain": false, "labelPadding": 10, "titlePadding": 10},
"legend": {"orient": "none", "legendX": 172, "legendY": 274, "symbolSize": 3364, "clipHeight": 17, "labelFontSize": 16, "labelOffset": 6, "padding": 4, "rowPadding": 2, "labelColor": "#333333"}
}
}
